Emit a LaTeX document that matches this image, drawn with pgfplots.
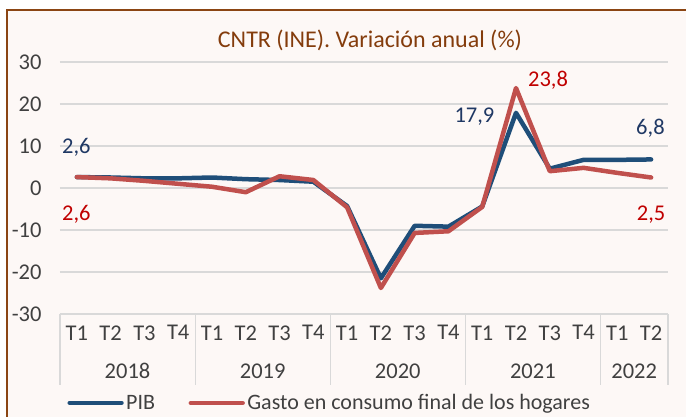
\documentclass[border=0pt]{standalone}
\usepackage{pgfplots}
\pgfplotsset{compat=1.18}
\usepackage{fontspec}
\setmainfont{Carlito}
\definecolor{bgc}{HTML}{FDF8F6}
\definecolor{framec}{HTML}{8B4513}
\definecolor{titlec}{HTML}{843C0C}
\definecolor{pibc}{HTML}{1F4E79}
\definecolor{hogc}{HTML}{C0504D}
\definecolor{lblblue}{HTML}{1F3864}
\definecolor{lblred}{HTML}{C00000}
\definecolor{gridc}{HTML}{D9D9D9}
\definecolor{txtc}{HTML}{404040}
\newcommand{\fs}{\fontsize{22.5}{26}\selectfont}
\begin{document}
\begin{tikzpicture}[x=1pt,y=1pt]
\useasboundingbox (0,0) rectangle (686,416);
\begin{scope}
\clip (0,0) rectangle (686,416);
\fill[white] (0,0) rectangle (686,416);
\draw[framec, line width=1.3pt, fill=bgc] (7,-10) rectangle (700,406);
\end{scope}
\node[titlec, anchor=base, font=\fontsize{24}{28}\selectfont] at (370,368) {CNTR (INE). Variación anual (\%)};
\begin{axis}[
  at={(60pt,102pt)}, anchor=south west,
  scale only axis, width=608pt, height=252pt,
  xmin=0.5, xmax=18.5, ymin=-30, ymax=30,
  ytick={-30,-20,...,30},
  xtick={1,...,18},
  xticklabels={T1,T2,T3,T4,T1,T2,T3,T4,T1,T2,T3,T4,T1,T2,T3,T4,T1,T2},
  axis line style={draw=none},
  major tick length=0pt,
  ymajorgrids, grid style={gridc, line width=1.2pt},
  /pgf/number format/assume math mode=true,
  ticklabel style={font=\fs, text=txtc},
  yticklabel style={anchor=east, xshift=-15pt},
  xticklabel style={anchor=north, yshift=-8pt},
  clip=false,
  legend style={draw=none, fill=none, at={(0.012,-0.353)}, anchor=west,
    inner sep=0pt, font=\fontsize{22}{26}\selectfont, text=txtc,
    /tikz/every even column/.append style={column sep=31pt},
    nodes={inner xsep=2.5pt}},
  legend columns=2,
  legend image code/.code={\draw[#1, line width=4.5pt, line cap=round] (2.25pt,0pt) -- (54pt,0pt);},
]
\addplot[pibc, line width=4.5pt, line join=round, line cap=round] coordinates {
(1,2.6) (2,2.5) (3,2.3) (4,2.3) (5,2.5) (6,2.1) (7,1.9) (8,1.5)
(9,-4.3) (10,-21.5) (11,-9.0) (12,-9.2)
(13,-4.4) (14,17.9) (15,4.6) (16,6.7) (17,6.7) (18,6.8)};
\addlegendentry{PIB}
\addplot[hogc, line width=4.5pt, line join=round, line cap=round] coordinates {
(1,2.6) (2,2.3) (3,1.7) (4,1.0) (5,0.3) (6,-1.0) (7,2.8) (8,1.9)
(9,-4.6) (10,-23.8) (11,-10.7) (12,-10.3)
(13,-4.5) (14,23.8) (15,4.0) (16,4.8) (17,3.6) (18,2.5)};
\addlegendentry{Gasto en consumo final de los hogares}
\pgfplotsinvokeforeach{0.5,4.5,8.5,12.5,16.5,18.5}{
  \draw[gridc, line width=1.2pt] (axis cs:#1,-30) -- ([yshift=-71pt]axis cs:#1,-30);
}
\begin{scope}[every node/.style={text=txtc, font=\fs, anchor=center}]
\node at ([yshift=-57pt]axis cs:2.5,-30) {2018};
\node at ([yshift=-57pt]axis cs:6.5,-30) {2019};
\node at ([yshift=-57pt]axis cs:10.5,-30) {2020};
\node at ([yshift=-57pt]axis cs:14.5,-30) {2021};
\node at ([yshift=-57pt]axis cs:17.5,-30) {2022};
\end{scope}
\begin{scope}[every node/.style={anchor=base, font=\fs}]
\node[text=lblblue] at (axis cs:0.985,8.33) {2,6};
\node[text=lblred] at (axis cs:0.985,-7.62) {2,6};
\node[text=lblblue] at (axis cs:12.77,15.48) {17,9};
\node[text=lblred] at (axis cs:14.95,24.05) {23,8};
\node[text=lblblue] at (axis cs:17.98,12.62) {6,8};
\node[text=lblred] at (axis cs:18.0,-7.62) {2,5};
\end{scope}
\end{axis}
\end{tikzpicture}
\end{document}
